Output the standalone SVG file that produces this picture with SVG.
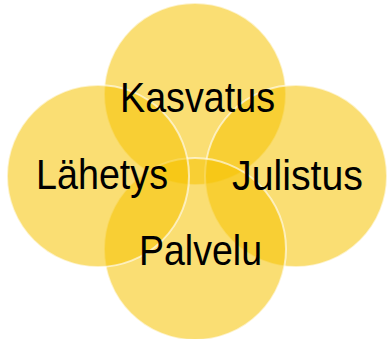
<svg xmlns="http://www.w3.org/2000/svg" width="387" height="339" viewBox="0 0 387 339">
<style>
.c{fill:#F5C300;fill-opacity:.55;stroke:#fff;stroke-opacity:.6;stroke-width:2}
.t{font-family:"Liberation Sans",Arial,sans-serif;font-size:43px;fill:#000;text-anchor:middle}
</style>
<rect width="387" height="339" fill="#fff"/>
<g id="top"><circle class="c" cx="195" cy="94" r="91"/></g>
<g id="right"><circle class="c" cx="296" cy="176" r="91"/></g>
<g id="bottom"><circle class="c" cx="195" cy="249" r="91"/></g>
<g id="left"><circle class="c" cx="98" cy="176" r="91"/></g>
<g id="labels">
<text class="t" x="197.5" y="112" textLength="155" lengthAdjust="spacingAndGlyphs">Kasvatus</text>
<text class="t" x="102" y="189" textLength="132" lengthAdjust="spacingAndGlyphs">Lähetys</text>
<text class="t" x="297.5" y="190" textLength="131" lengthAdjust="spacingAndGlyphs">Julistus</text>
<text class="t" x="200.5" y="265" textLength="123" lengthAdjust="spacingAndGlyphs">Palvelu</text>
</g>
<g id="connectors"></g>
</svg>
